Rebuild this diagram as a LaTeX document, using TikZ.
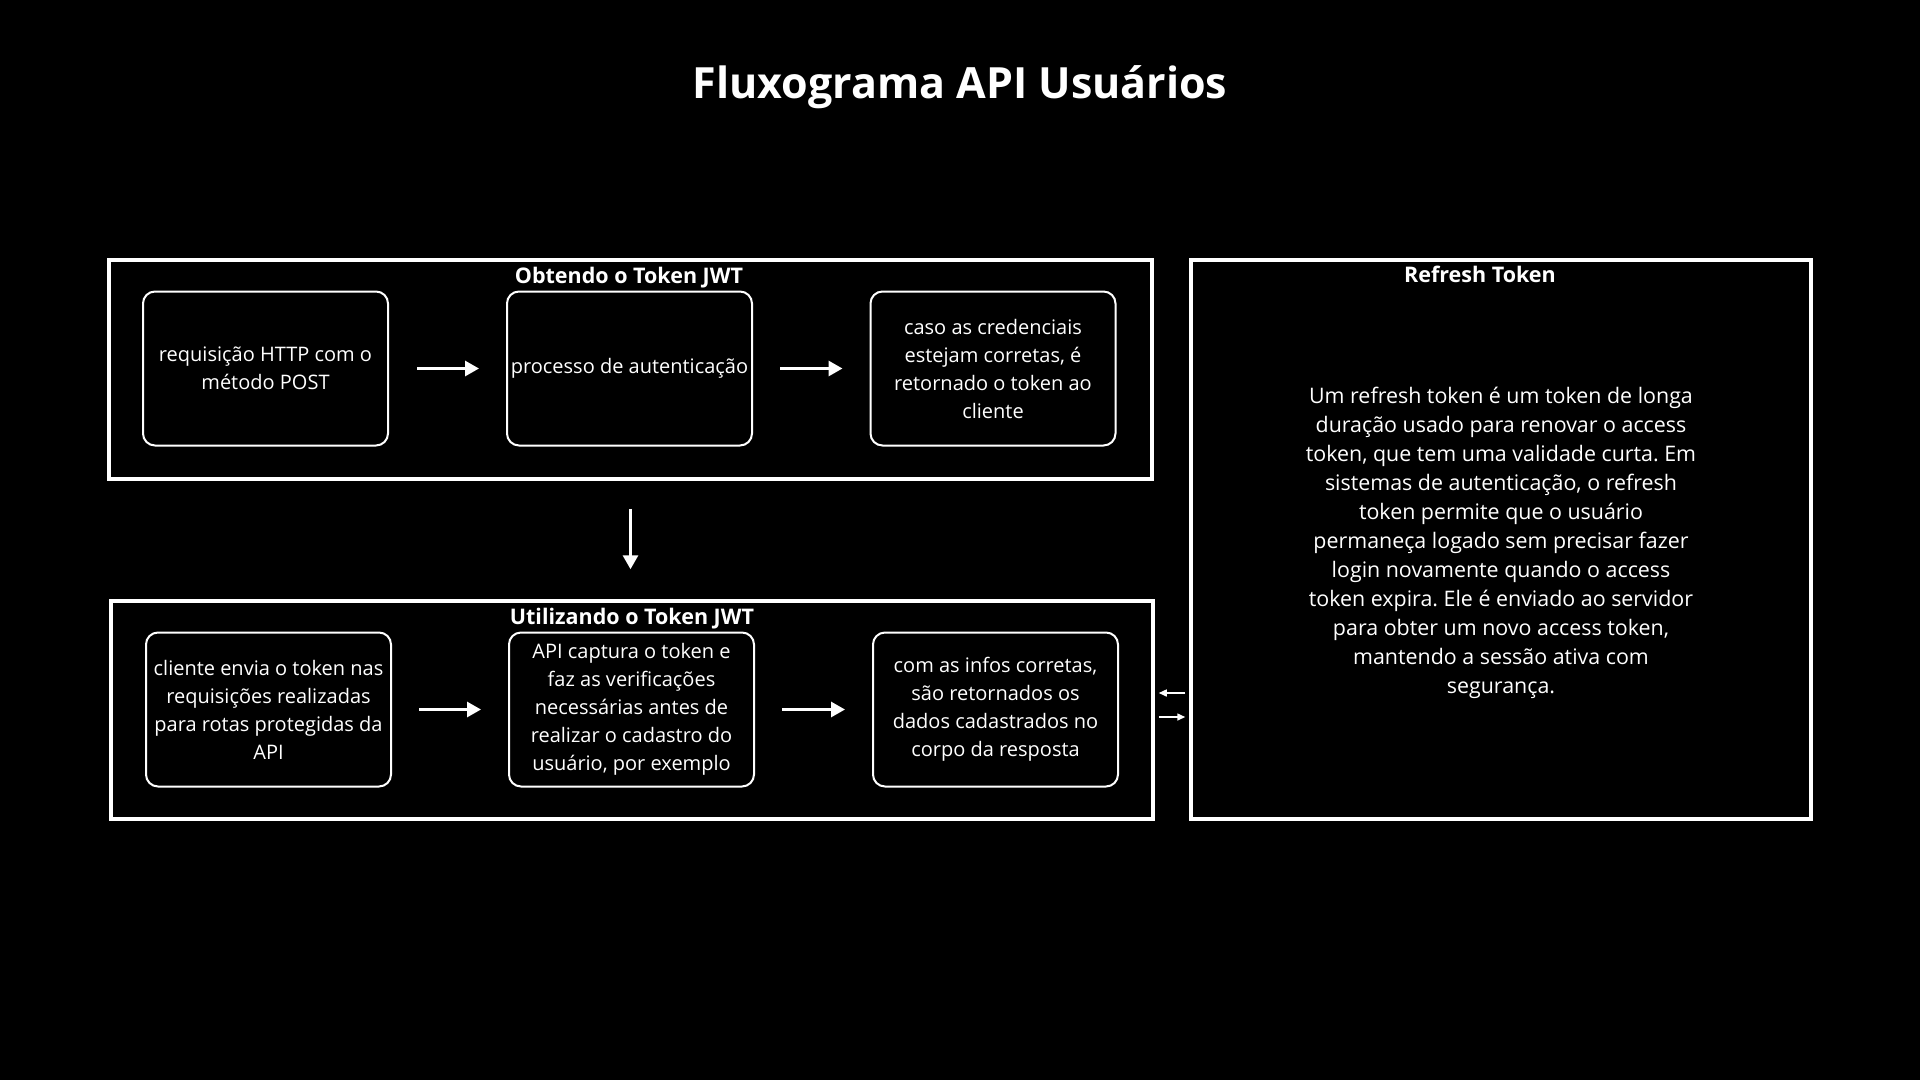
\documentclass[tikz,border=0pt]{standalone}
\usepackage{fontspec}
\setmainfont{Open Sans}
\usetikzlibrary{arrows.meta}
\begin{document}
\frenchspacing
\begin{tikzpicture}[x=1pt,y=-1pt,
  frame/.style={draw=white, line width=3.5pt, rectangle, inner sep=0pt},
  stepbox/.style={draw=white, line width=2pt, rounded corners=12pt, text=white,
    align=center, inner sep=0pt, minimum width=245pt, minimum height=154pt,
    font=\fontsize{20}{28}\selectfont},
  lbl/.style={text=white, font=\bfseries\fontsize{21.5}{26}\selectfont, inner sep=0pt},
  flow/.style={draw=white, line width=3pt, -{Triangle[width=15pt,length=14pt]}},
  thin flow/.style={draw=white, line width=1.5pt, -{Triangle[width=7pt,length=8pt]}}
]
\fill[black] (0,0) rectangle (1920,1080);
\useasboundingbox (0,0) rectangle (1920,1080);

\node[text=white, font=\bfseries\fontsize{43}{50}\selectfont, inner sep=0pt] (title) at (960,87) {Fluxograma API Usuários};

% frames
\node[frame, minimum width=1043pt, minimum height=219pt] (f1) at (630.5,369.5) {};
\node[frame, minimum width=1042pt, minimum height=218pt] (f2) at (632,710) {};
\node[frame, minimum width=620pt, minimum height=559pt] (rf) at (1501,539.5) {};

\node[lbl] (l1) at (629,278) {Obtendo o Token JWT};
\node[lbl] (l2) at (632,619) {Utilizando o Token JWT};
\node[lbl] (l3) at (1480,274) {Refresh Token};

% row 1
\node[stepbox] (a1) at (265.5,368.5) {requisição HTTP com o\\método POST};
\node[stepbox] (a2) at (629.5,368.5) {processo de autenticação};
\node[stepbox] (a3) at (993,368.5) {caso as credenciais\\estejam corretas, é\\retornado o token ao\\cliente};

% row 2
\node[stepbox] (b1) at (268.5,709.5) {cliente envia o token nas\\requisições realizadas\\para rotas protegidas da\\API};
\node[stepbox] (b2) at (631.5,709.5) {API captura o token e\\faz as verificações\\necessárias antes de\\realizar o cadastro do\\usuário, por exemplo};
\node[stepbox] (b3) at (995.5,709.5) {com as infos corretas,\\são retornados os\\dados cadastrados no\\corpo da resposta};

% refresh body
\node[text=white, align=center, inner sep=0pt, font=\fontsize{21.4}{29}\selectfont] (body) at (1501,543)
{Um refresh token é um token de longa\\duração usado para renovar o access\\token, que tem uma validade curta. Em\\sistemas de autenticação, o refresh\\token permite que o usuário\\permaneça logado sem precisar fazer\\login novamente quando o access\\token expira. Ele é enviado ao servidor\\para obter um novo access token,\\mantendo a sessão ativa com\\segurança.};

% arrows
\draw[flow, shorten <=28pt, shorten >=27pt] (a1) -- (a2);
\draw[flow, shorten <=27pt, shorten >=27pt] (a2) -- (a3);
\draw[flow, shorten <=27pt, shorten >=27pt] (b1) -- (b2);
\draw[flow, shorten <=27pt, shorten >=27pt] (b2) -- (b3);
\draw[flow, shorten <=28pt, shorten >=30pt] (f1) -- (f1 |- f2.north);
\draw[thin flow, shorten <=4pt, shorten >=4pt] (rf.west |- 0,693) -- (f2.east |- 0,693);
\draw[thin flow, shorten <=4pt, shorten >=4pt] (f2.east |- 0,717) -- (rf.west |- 0,717);
\end{tikzpicture}
\end{document}
